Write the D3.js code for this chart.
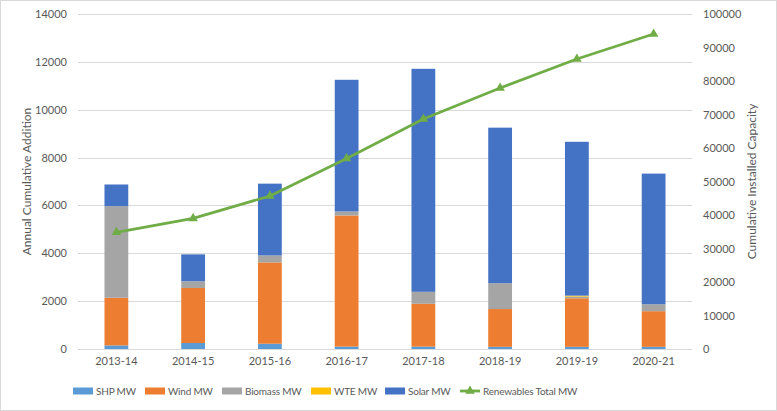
<!DOCTYPE html>
<html>
<head>
<meta charset="utf-8">
<script src="https://cdn.jsdelivr.net/npm/d3@7"></script>
<style>
  body { margin: 0; background: #fff; }
  text { font-family: Lato, "Open Sans", sans-serif; fill: #595959; }
</style>
</head>
<body>
<svg width="777" height="411"></svg>
<script>
// data
var years = ["2013-14", "2014-15", "2015-16", "2016-17", "2017-18", "2018-19", "2019-19", "2020-21"];
var shp = [150, 250, 220, 100, 100, 90, 90, 90];
var wind = [1990, 2300, 3400, 5480, 1790, 1580, 2030, 1490];
var biomass = [3830, 280, 290, 170, 500, 1080, 70, 290];
var wte = [0, 0, 0, 0, 0, 0, 40, 0];
var solar = [905, 1125, 3000, 5500, 9320, 6500, 6430, 5460];
var totalMW = [34830, 39000, 45670, 56900, 68660, 77900, 86570, 94030];

var leftTicks = [0, 2000, 4000, 6000, 8000, 10000, 12000, 14000];
var rightTicks = [0, 10000, 20000, 30000, 40000, 50000, 60000, 70000, 80000, 90000, 100000];

var keys = ["SHP MW", "Wind MW", "Biomass MW", "WTE MW", "Solar MW"];
var colors = ["#5B9BD5", "#ED7D31", "#A5A5A5", "#FFC000", "#4472C4"];
var lineName = "Renewables Total MW";
var lineColor = "#70AD47";

var svg = d3.select("svg"),
    margin = {top: 14, right: 85, bottom: 62, left: 78},
    width = +svg.attr("width") - margin.left - margin.right,
    height = +svg.attr("height") - margin.top - margin.bottom;

// outer frame
svg.append("rect")
    .attr("x", 0.5).attr("y", 0.5)
    .attr("width", 776).attr("height", 410)
    .attr("fill", "none").attr("stroke", "#d9d9d9");

var g = svg.append("g").attr("transform", "translate(" + margin.left + "," + margin.top + ")");

var rows = years.map(function (y, i) {
    return {year: y, "SHP MW": shp[i], "Wind MW": wind[i], "Biomass MW": biomass[i], "WTE MW": wte[i], "Solar MW": solar[i]};
});

var x = d3.scaleBand().domain(years).range([0, width]).paddingInner(0.69).paddingOuter(0.345);
var y = d3.scaleLinear().domain([0, 14000]).range([height, 0]);
var y2 = d3.scaleLinear().domain([0, 100000]).range([height, 0]);
var z = d3.scaleOrdinal().domain(keys).range(colors);

// gridlines
g.append("g")
    .selectAll("line")
    .data(leftTicks)
    .enter().append("line")
    .attr("x1", 0).attr("x2", width)
    .attr("y1", function (d) { return Math.round(y(d)) + 0.5; })
    .attr("y2", function (d) { return Math.round(y(d)) + 0.5; })
    .attr("stroke", "#d9d9d9");

// left axis
var la = g.append("g")
    .call(d3.axisLeft(y).tickValues(leftTicks).tickFormat(d3.format("d")).tickSize(0).tickPadding(11));
la.select(".domain").remove();
la.selectAll("text").attr("font-size", 11).style("font-family", "Lato, sans-serif").attr("fill", "#595959");

// right axis
var ra = g.append("g")
    .attr("transform", "translate(" + width + ",0)")
    .call(d3.axisRight(y2).tickValues(rightTicks).tickFormat(d3.format("d")).tickSize(0).tickPadding(11));
ra.select(".domain").remove();
ra.selectAll("text").attr("font-size", 11).style("font-family", "Lato, sans-serif").attr("fill", "#595959");

// stacked bars
g.append("g")
    .selectAll("g")
    .data(d3.stack().keys(keys)(rows))
    .enter().append("g")
    .attr("fill", function (d) { return z(d.key); })
    .selectAll("rect")
    .data(function (d) { return d; })
    .enter().append("rect")
    .attr("x", function (d) { return x(d.data.year); })
    .attr("y", function (d) { return y(d[1]); })
    .attr("height", function (d) { return y(d[0]) - y(d[1]); })
    .attr("width", x.bandwidth());

// bottom axis line
g.append("line")
    .attr("x1", 0).attr("x2", width)
    .attr("y1", height + 0.5).attr("y2", height + 0.5)
    .attr("stroke", "#d9d9d9");

var ba = g.append("g")
    .attr("transform", "translate(0," + height + ")")
    .call(d3.axisBottom(x).tickSize(0).tickPadding(8));
ba.select(".domain").remove();
ba.selectAll("text").attr("font-size", 11).style("font-family", "Lato, sans-serif").attr("fill", "#595959");

// cumulative line
var line = d3.line()
    .x(function (d, i) { return x(years[i]) + x.bandwidth() / 2; })
    .y(function (d) { return y2(d); });

g.append("path")
    .datum(totalMW)
    .attr("fill", "none")
    .attr("stroke", lineColor)
    .attr("stroke-width", 2.8)
    .attr("stroke-linejoin", "round")
    .attr("d", line);

var tri = d3.symbol().type(d3.symbolTriangle).size(40);
g.append("g")
    .selectAll("path")
    .data(totalMW)
    .enter().append("path")
    .attr("d", tri)
    .attr("fill", lineColor)
    .attr("transform", function (d, i) {
        return "translate(" + (x(years[i]) + x.bandwidth() / 2) + "," + y2(d) + ")";
    });

// axis titles
svg.append("text")
    .attr("transform", "translate(31," + (margin.top + height / 2) + ") rotate(-90)")
    .attr("text-anchor", "middle")
    .attr("font-size", 12)
    .text("Annual Cumulative Addition");

svg.append("text")
    .attr("transform", "translate(756," + (margin.top + height / 2) + ") rotate(-90)")
    .attr("text-anchor", "middle")
    .attr("font-size", 12)
    .text("Cumulative Installed Capacity");

// legend
var legendX = [73, 145, 222, 311, 385, 460];
var legend = svg.append("g")
    .selectAll("g")
    .data(keys.concat([lineName]))
    .enter().append("g")
    .attr("transform", function (d, i) { return "translate(" + legendX[i] + ",391)"; });

legend.filter(function (d) { return d !== lineName; })
    .append("rect")
    .attr("y", -3.5)
    .attr("width", 20).attr("height", 7)
    .attr("fill", z);

var ll = legend.filter(function (d) { return d === lineName; });
ll.append("line")
    .attr("x1", 0).attr("x2", 20)
    .attr("stroke", lineColor).attr("stroke-width", 2.8);
ll.append("path")
    .attr("d", tri)
    .attr("transform", "translate(10,0)")
    .attr("fill", lineColor);

legend.append("text")
    .attr("x", 23)
    .attr("dy", "0.35em")
    .attr("font-size", 10)
    .attr("letter-spacing", -0.2)
    .text(function (d) { return d; });
</script>
</body>
</html>
